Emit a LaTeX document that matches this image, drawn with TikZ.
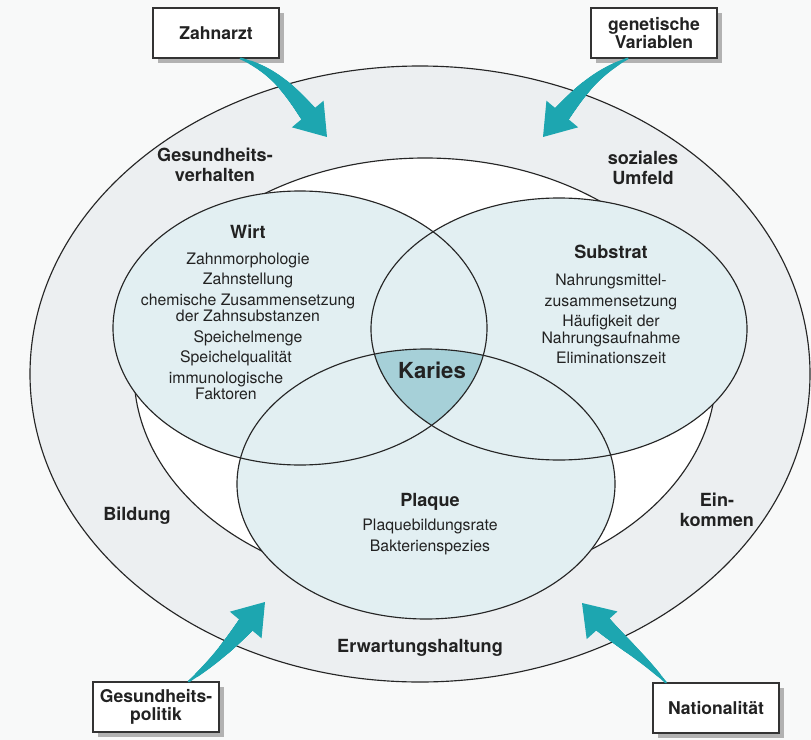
\documentclass[tikz,border=0pt]{standalone}
\usepackage{fontspec}
\setmainfont{TeX Gyre Heros}
\usepackage{xcolor}
\usetikzlibrary{arrows.meta, positioning, shadows, decorations.markings}

\definecolor{pagebg}{HTML}{F8F9F9}
\definecolor{ringfill}{HTML}{ECEFF1}
\definecolor{vennfill}{HTML}{E2EFF2}
\definecolor{kariesfill}{HTML}{A6D0D8}
\definecolor{swooshteal}{HTML}{1DA6B0}
\definecolor{shadowgray}{HTML}{B2B2B2}
\definecolor{inktext}{HTML}{222222}

\begin{document}
\begin{tikzpicture}[
    x=0.02cm, y=0.02cm,
    ring/.style={draw=black!85, line width=0.65pt},
    title/.style={inner sep=0pt, align=center, text=inktext, font=\fontsize{10.3}{11.5}\selectfont\bfseries},
    items/.style={inner sep=0pt, align=center, text=inktext, font=\fontsize{9}{9.3}\selectfont},
    factor/.style={rectangle, draw=black!80, line width=0.6pt, fill=white, minimum width=2.52cm, minimum height=1cm, align=center, text=inktext, font=\fontsize{10}{10.4}\selectfont\bfseries, drop shadow={shadow xshift=0.1cm, shadow yshift=-0.1cm, fill=shadowgray, opacity=1}},
    swoosh/.style={draw=swooshteal, line width=1pt, -{Triangle[width=0.82cm, length=0.6cm]}, postaction={decorate}, decoration={markings, mark=between positions 0 and 0.79 step 0.008 with {\pgfmathsetmacro\swooshr{0.6+6*\pgfkeysvalueof{/pgf/decoration/mark info/distance from start}/\pgfdecoratedpathlength}\fill[swooshteal] (0,0) circle (\swooshr pt);}}}
]
\fill[pagebg] (0,0) rectangle (811,-740);
\useasboundingbox (0,0) rectangle (811,-740);

\coordinate (aussen) at (420,-374);
\coordinate (mitte) at (425,-373);
\coordinate (wirtkreis) at (300,-328);
\coordinate (substratkreis) at (559,-329);
\coordinate (plaquekreis) at (426,-484);

\draw [ring, fill=ringfill] (aussen) ellipse [x radius=390, y radius=308];
\draw [ring, fill=white] (mitte) ellipse [x radius=291, y radius=215];
\fill [vennfill] (wirtkreis) ellipse [x radius=187, y radius=137];
\fill [vennfill] (substratkreis) ellipse [x radius=188, y radius=131];
\fill [vennfill] (plaquekreis) ellipse [x radius=189, y radius=135];
\begin{scope}
  \clip (wirtkreis) ellipse [x radius=187, y radius=137];
  \clip (substratkreis) ellipse [x radius=188, y radius=131];
  \fill [kariesfill] (plaquekreis) ellipse [x radius=189, y radius=135];
\end{scope}
\draw [ring] (wirtkreis) ellipse [x radius=187, y radius=137];
\draw [ring] (substratkreis) ellipse [x radius=188, y radius=131];
\draw [ring] (plaquekreis) ellipse [x radius=189, y radius=135];

\node (gesverhalten) [title] at (215,-165) {Gesundheits-\\verhalten};
\node (umfeld) [title] at (643,-168) {soziales\\Umfeld};
\node (bildung) [title] at (137,-516) {Bildung};
\node (einkommen) [title] at (717,-510) {Ein-\\kommen};
\node (erwartung) [title] at (420,-648) {Erwartungshaltung};

\node (wirt) [title] at (248,-232) {Wirt};
\node (wirtlist) [items] at (248,-299) {Zahnmorphologie\\[2.4pt] Zahnstellung\\[2.4pt] chemische Zusammensetzung\\der Zahnsubstanzen\\[2.4pt] Speichelmenge};
\node (qualitaet) [items] at (236,-358) {Speichelqualität};
\node (immun) [items] at (226,-386) {immunologische\\Faktoren};
\node (substrat) [title] at (611,-252) {Substrat};
\node (substratlist) [items] at (611,-319) {Nahrungsmittel-\\[2.4pt] zusammensetzung\\[2.4pt] Häufigkeit der\\Nahrungsaufnahme\\[2.4pt] Eliminationszeit};
\node (karies) [title, font=\fontsize{12.6}{14}\selectfont\bfseries] at (432,-370) {Karies};
\node (plaque) [title] at (430,-502) {Plaque};
\node (plaquelist) [items] at (430,-537) {Plaquebildungsrate\\[2.4pt] Bakterienspezies};

\node (zahnarzt) [factor] at (216,-33) {Zahnarzt};
\node (genetik) [factor] at (654,-33) {genetische\\Variablen};
\node (politik) [factor] at (156,-707) {Gesundheits-\\politik};
\node (nationalitaet) [factor] at (716,-708) {Nationalität};

\coordinate (zahnarztpfeil) at (327,-137);
\coordinate (genetikpfeil) at (543,-137);
\coordinate (politikpfeil) at (265,-602);
\coordinate (nationalitaetpfeil) at (582,-603);

\draw [swoosh] (zahnarzt.-46) to[out=-20, in=130] (zahnarztpfeil);
\draw [swoosh] (genetik.-136) to[out=205, in=50] (genetikpfeil);
\draw [swoosh] (politik.38) to[out=38, in=230] (politikpfeil);
\draw [swoosh] (nationalitaet.153) to[out=133, in=-48] (nationalitaetpfeil);
\end{tikzpicture}
\end{document}
